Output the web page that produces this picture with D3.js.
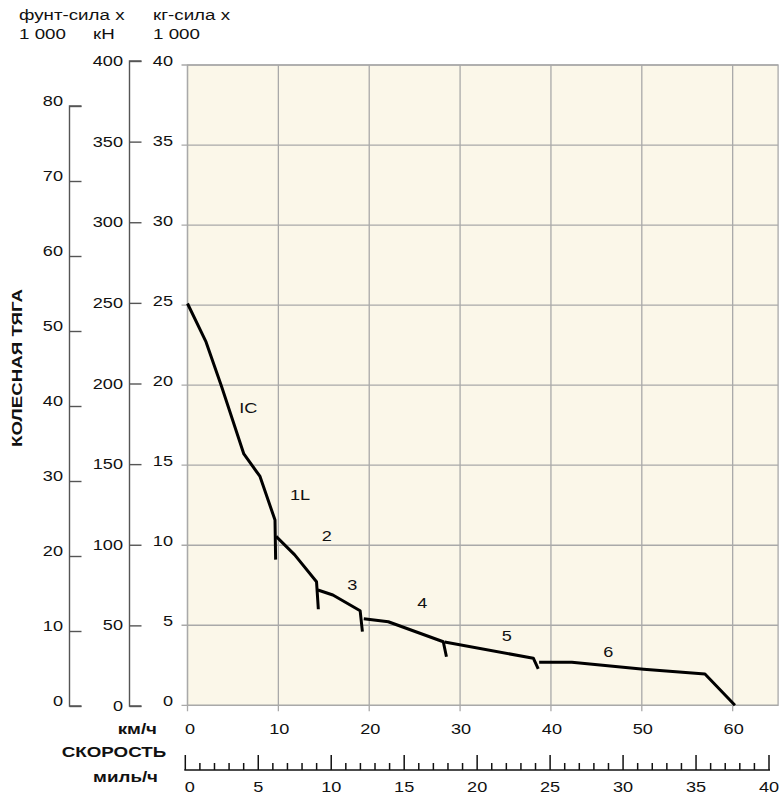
<!DOCTYPE html>
<html><head><meta charset="utf-8">
<script src="https://cdn.jsdelivr.net/npm/d3@7"></script>
<style>
html,body{margin:0;padding:0;background:#fff;}
svg text{font-family:"Liberation Sans",Arial,Helvetica,sans-serif;fill:#111;}
</style></head>
<body><svg id="c" width="779" height="796"></svg>
<script>
// ---- data ----
const kmhTicks = [0,10,20,30,40,50,60];
const tfTicks = [0,5,10,15,20,25,30,35,40];
const kNTicks = [0,50,100,150,200,250,300,350,400];
const lbfTicks = [0,10,20,30,40,50,60,70,80];
const mphMajor = [0,5,10,15,20,25,30,35,40];
const mphMinor = d3.range(0,41,1);
// tractive effort curves: [km/h, kgf x 1000]
const gearIC1L = [[0,25.1],[2.04,22.7],[3.76,19.9],[6.2,15.7],[7.98,14.3],[9.63,11.57],[9.7,9.1]];
const gear2 = [[9.75,10.55],[11.8,9.4],[14.2,7.72],[14.4,6.0]];
const gear3 = [[14.35,7.2],[16.0,6.89],[19.0,5.91],[19.25,4.6]];
const gear4 = [[19.4,5.4],[22.1,5.22],[28.15,3.97],[28.5,3.03]];
const gear5 = [[28.3,3.95],[38.06,2.94],[38.6,2.27]];
const gear6 = [[38.7,2.69],[42.3,2.69],[50.2,2.25],[56.95,1.95],[60.25,0]];
const gearLabels = ["IC","1L","2","3","4","5","6"];
const gearLabelPos = [[6.69,18.55],[12.38,13.14],[15.32,10.58],[18.13,7.51],[25.84,6.37],[35.13,4.33],[46.31,3.35]];

// ---- layout ----
const svg = d3.select("#c");
const x = d3.scaleLinear().domain([0,65]).range([187.5,778.1]);
const y = d3.scaleLinear().domain([0,40]).range([705.3,65]);
const yKN = d3.scaleLinear().domain([0,400]).range([706,61]);
const yLbf = d3.scaleLinear().domain([0,80]).range([706,106]);
const xMph = d3.scaleLinear().domain([0,40]).range([185.3,769]);
const grid = "#a9a9a9";
const SX = 1.25; // horizontal stretch of the lettering

function label(sel, fx, fy, anchor, size, bold, rot){
  return sel.attr("transform",(d,i)=>`translate(${fx(d,i)},${fy(d,i)})${rot?" rotate(-90)":""} scale(${SX},1)`)
    .attr("dy","0.35em").attr("text-anchor",anchor).attr("font-size",size)
    .attr("font-weight",bold?"bold":"normal");
}

// plot background
svg.append("rect").attr("x",x(0)).attr("y",y(40)).attr("width",x(65)-x(0)).attr("height",y(0)-y(40))
  .attr("fill","#fbf7e9").attr("stroke",grid).attr("stroke-width",1.3);

// horizontal gridlines (with tick stubs to the left)
svg.append("g").selectAll("line").data(tfTicks).join("line")
  .attr("x1",x(0)-6).attr("x2",x(65)).attr("y1",d=>y(d)).attr("y2",d=>y(d))
  .attr("stroke",grid).attr("stroke-width",1.3);
// vertical gridlines (with stubs below)
svg.append("g").selectAll("line").data(kmhTicks).join("line")
  .attr("x1",d=>x(d)).attr("x2",d=>x(d)).attr("y1",y(40)).attr("y2",y(0)+6)
  .attr("stroke",grid).attr("stroke-width",1.3);

// kgf labels
label(svg.append("g").selectAll("text").data(tfTicks).join("text").text(d=>d),
  ()=>173, d=>y(d)-4.5, "end", 14.5);

// kN axis
const kNAxis = d3.axisRight(yKN).tickValues(kNTicks).tickSize(12).tickFormat("");
const gkN = svg.append("g").attr("transform","translate(129.5,0)").call(kNAxis);
gkN.select(".domain").attr("d",`M12,${yKN(400)}H0V${yKN(0)}H12`).attr("stroke","#555").attr("stroke-width",1.4);
gkN.selectAll(".tick line").attr("stroke","#555").attr("stroke-width",1.4);
label(svg.append("g").selectAll("text").data(kNTicks).join("text").text(d=>d),
  ()=>123, d=>yKN(d), "end", 14.5);

// lbf axis
const lbfAxis = d3.axisRight(yLbf).tickValues(lbfTicks).tickSize(12).tickFormat("");
const glbf = svg.append("g").attr("transform","translate(69.5,0)").call(lbfAxis);
glbf.select(".domain").attr("d",`M12,${yLbf(80)}H0V${yLbf(0)}H12`).attr("stroke","#555").attr("stroke-width",1.4);
glbf.selectAll(".tick line").attr("stroke","#555").attr("stroke-width",1.4);
label(svg.append("g").selectAll("text").data(lbfTicks).join("text").text(d=>d),
  ()=>63, d=>yLbf(d)-5, "end", 14.5);

// km/h labels
label(svg.append("g").selectAll("text").data(kmhTicks).join("text").text(d=>d),
  d=>x(d)+(d===0?2.5:1), ()=>728.5, "middle", 14.5);

// mph axis
const mphY = 770;
svg.append("line").attr("x1",xMph(0)-1).attr("x2",xMph(40)+1).attr("y1",mphY).attr("y2",mphY)
  .attr("stroke","#111").attr("stroke-width",1.5);
svg.append("g").selectAll("line").data(mphMinor).join("line")
  .attr("x1",d=>xMph(d)).attr("x2",d=>xMph(d)).attr("y1",mphY)
  .attr("y2",d=> d%5===0 ? mphY-15 : mphY-7)
  .attr("stroke","#111").attr("stroke-width",1.5);
label(svg.append("g").selectAll("text").data(mphMajor).join("text").text(d=>d),
  d=>xMph(d)+(d===0?4.5:0), ()=>787, "middle", 14.5);

// curves
const line = d3.line().x(d=>x(d[0])).y(d=>y(d[1]));
svg.append("g").selectAll("path").data([gearIC1L,gear2,gear3,gear4,gear5,gear6]).join("path")
  .attr("d",line).attr("fill","none").attr("stroke","#000").attr("stroke-width",3)
  .attr("stroke-linejoin","round").attr("stroke-linecap","butt");

// gear labels
label(svg.append("g").selectAll("text").data(gearLabels).join("text").text(d=>d),
  (d,i)=>x(gearLabelPos[i][0]), (d,i)=>y(gearLabelPos[i][1]), "middle", 14.5);

// headers
const hdrText = ["фунт-сила x","1 000","кН","кг-сила x","1 000"];
const hdrX = [19,19,93,153,153];
const hdrY = [14.5,33.5,33.5,14.5,33.5];
label(svg.append("g").selectAll("text").data(hdrText).join("text").text(d=>d),
  (d,i)=>hdrX[i], (d,i)=>hdrY[i], "start", 15);

// axis titles
label(svg.append("text").datum(0).text("КОЛЕСНАЯ ТЯГА"), ()=>17, ()=>368, "middle", 15, true, true);
label(svg.append("text").datum(0).text("км/ч"), ()=>157, ()=>728.5, "end", 15, true);
label(svg.append("text").datum(0).text("СКОРОСТЬ"), ()=>114, ()=>752, "middle", 15, true);
label(svg.append("text").datum(0).text("миль/ч"), ()=>158, ()=>777, "end", 15, true);
</script></body></html>
